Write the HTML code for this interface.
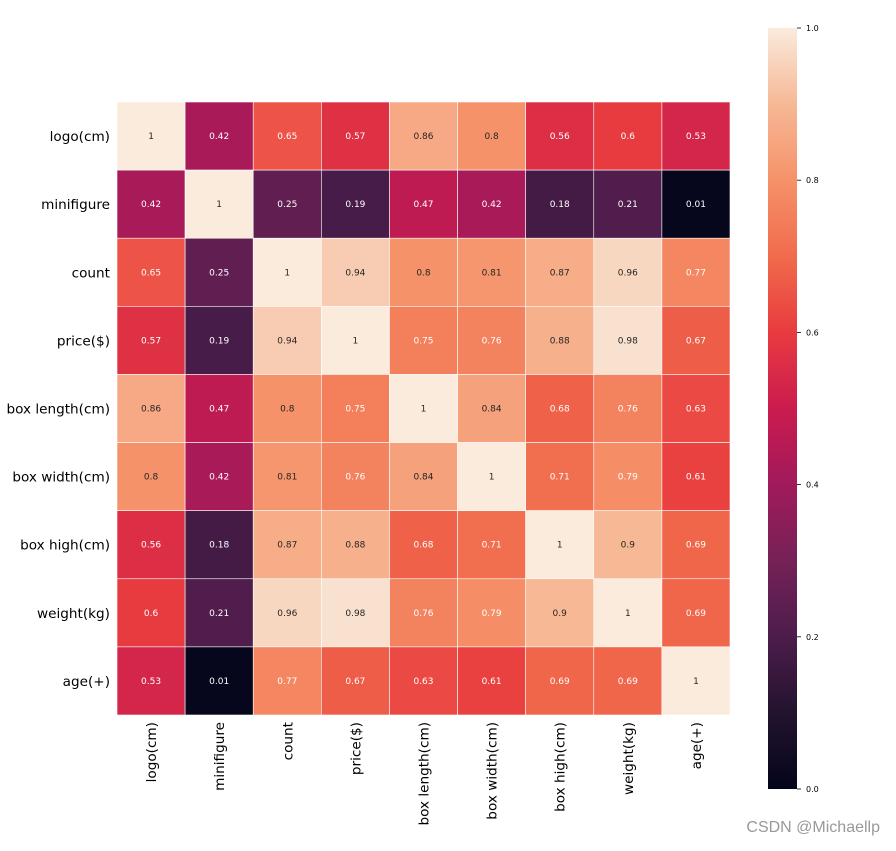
<!DOCTYPE html>
<html><head><meta charset="utf-8"><style>
body{margin:0;background:#fff;}
svg text{font-family:"DejaVu Sans","Liberation Sans",sans-serif;}
</style></head><body>
<svg id="chart" width="896" height="846" xmlns="http://www.w3.org/2000/svg">
<defs><linearGradient id="cbar" x1="0" y1="1" x2="0" y2="0"></linearGradient></defs>
<g id="cells"></g>
<g id="ylabels"></g>
<g id="xlabels"></g>
<rect x="768" y="28" width="29" height="761" fill="url(#cbar)"/>
<g id="cticks"></g>
<text x="880" y="832" text-anchor="end" font-size="16" fill="#999" style="font-family:'Liberation Sans',sans-serif">CSDN @Michaellp</text>
</svg>
<script>
const labels=["logo(cm)","minifigure","count","price($)","box length(cm)","box width(cm)","box high(cm)","weight(kg)","age(+)"];
const row0=[1,0.42,0.65,0.57,0.86,0.8,0.56,0.6,0.53];
const row1=[0.42,1,0.25,0.19,0.47,0.42,0.18,0.21,0.01];
const row2=[0.65,0.25,1,0.94,0.8,0.81,0.87,0.96,0.77];
const row3=[0.57,0.19,0.94,1,0.75,0.76,0.88,0.98,0.67];
const row4=[0.86,0.47,0.8,0.75,1,0.84,0.68,0.76,0.63];
const row5=[0.8,0.42,0.81,0.76,0.84,1,0.71,0.79,0.61];
const row6=[0.56,0.18,0.87,0.88,0.68,0.71,1,0.9,0.69];
const row7=[0.6,0.21,0.96,0.98,0.76,0.79,0.9,1,0.69];
const row8=[0.53,0.01,0.77,0.67,0.63,0.61,0.69,0.69,1];
const matrix=[row0,row1,row2,row3,row4,row5,row6,row7,row8];
const cbTicks=[0,0.2,0.4,0.6,0.8,1.0];
const cmap=[[3,5,26],[35,19,47],[76,29,75],[118,33,87],[161,26,91],[203,27,79],[232,59,63],[241,107,76],[245,146,106],[246,184,149],[250,235,221]];
function color(v){v=Math.max(0,Math.min(1,v));const t=v*10,i=Math.min(9,Math.floor(t)),f=t-i;const a=cmap[i],b=cmap[i+1];return `rgb(${a.map((c,k)=>Math.round(c+(b[k]-c)*f)).join(",")})`;}
const NS="http://www.w3.org/2000/svg";
const x0=117,y0=102,W=613;const n=labels.length,cs=W/n;
const xPos=i=>x0+i*cs, yPos=i=>y0+i*cs;
function mk(tag,attrs,parent){const e=document.createElementNS(NS,tag);for(const k in attrs)e.setAttribute(k,attrs[k]);parent.appendChild(e);return e;}
const cells=document.getElementById("cells");
matrix.forEach((row,r)=>row.forEach((v,c)=>{
 const rect=mk("rect",{x:xPos(c),y:yPos(r),width:cs,height:cs,fill:color(v),stroke:"#fff","stroke-width":0.6},cells);
 
 
 const t=mk("text",{x:xPos(c)+cs/2,y:yPos(r)+cs/2+3,"text-anchor":"middle","font-size":9,fill:v>=0.8?"#262626":"#fff"},cells);
 t.textContent=String(v);
 
 
}));
const yl=document.getElementById("ylabels"),xl=document.getElementById("xlabels");
labels.forEach((l,i)=>{
 const t=mk("text",{x:110,y:yPos(i)+cs/2+5,"text-anchor":"end","font-size":13.6,fill:"#000"},yl);
 t.textContent=l;
 
 
 const cx=xPos(i)+cs/2+5;
 const u=mk("text",{x:cx,y:722,"text-anchor":"end","font-size":13.6,fill:"#000",transform:`rotate(-90 ${cx} 722)`},xl);
 u.textContent=l;
 
 
});
const g=document.getElementById("cbar");
for(let k=0;k<=10;k++){mk("stop",{offset:k/10,"stop-color":color(k/10)},g);}
const ct=document.getElementById("cticks");
cbTicks.forEach(v=>{
 const y=789-v*761;
 const ln=mk("line",{x1:797,x2:801,y1:y,y2:y,stroke:"#000","stroke-width":0.8},ct);
 
 
 const t=mk("text",{x:806,y:y+3,"font-size":8,fill:"#000"},ct);
 t.textContent=v.toFixed(1);
 
 
});
</script>
</body></html>
